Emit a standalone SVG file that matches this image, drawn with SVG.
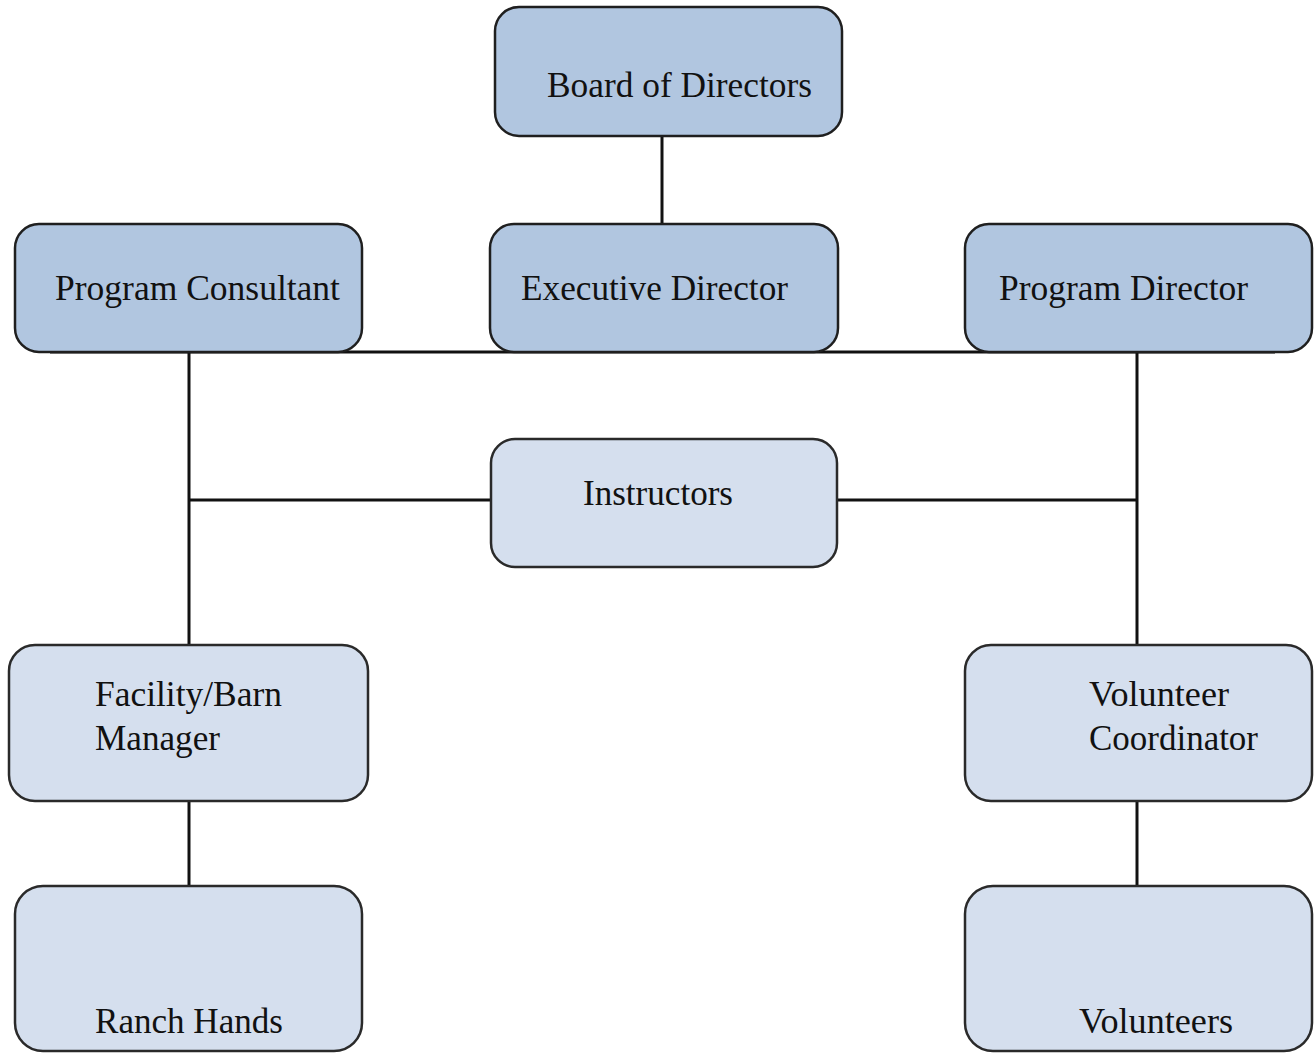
<svg xmlns="http://www.w3.org/2000/svg" width="1315" height="1053" viewBox="0 0 1315 1053">
<style>
.dark{fill:#b1c6e0;stroke:#1f1f1f;stroke-width:2.5}
.light{fill:#d5dfee;stroke:#2a2a2a;stroke-width:2.5}
.lbl{font-family:"Liberation Serif","Times New Roman",serif;font-size:35px;fill:#111}
.conn{stroke:#111;stroke-width:3;fill:none}
</style>
<rect width="1315" height="1053" fill="#fff"/>
<g id="connectors">
<line class="conn" x1="662" y1="136" x2="662" y2="224"/>
<line class="conn" x1="50" y1="352" x2="1275" y2="352"/>
<line class="conn" x1="189" y1="352" x2="189" y2="646"/>
<line class="conn" x1="1137" y1="352" x2="1137" y2="646"/>
<line class="conn" x1="189" y1="500" x2="491" y2="500"/>
<line class="conn" x1="837" y1="500" x2="1137" y2="500"/>
<line class="conn" x1="189" y1="800" x2="189" y2="886"/>
<line class="conn" x1="1137" y1="800" x2="1137" y2="886"/>
</g>
<g id="board">
<rect class="dark" x="495" y="7" width="347" height="129" rx="24" stroke-width="3"/>
<text class="lbl" x="547" y="97" textLength="265" lengthAdjust="spacingAndGlyphs">Board of Directors</text>
</g>
<g id="consultant">
<rect class="dark" x="15" y="224" width="347" height="128" rx="24"/>
<text class="lbl" x="55" y="300" textLength="285" lengthAdjust="spacingAndGlyphs">Program Consultant</text>
</g>
<g id="executive">
<rect class="dark" x="490" y="224" width="348" height="128" rx="24"/>
<text class="lbl" x="521" y="300" textLength="267" lengthAdjust="spacingAndGlyphs">Executive Director</text>
</g>
<g id="programdirector">
<rect class="dark" x="965" y="224" width="347" height="128" rx="24"/>
<text class="lbl" x="999" y="300" textLength="249" lengthAdjust="spacingAndGlyphs">Program Director</text>
</g>
<g id="instructors">
<rect class="light" x="491" y="439" width="346" height="128" rx="24" stroke-width="3"/>
<text class="lbl" x="583" y="505" textLength="150" lengthAdjust="spacingAndGlyphs">Instructors</text>
</g>
<g id="facility">
<rect class="light" x="9" y="645" width="359" height="156" rx="26"/>
<text class="lbl" x="95" y="706" textLength="187" lengthAdjust="spacingAndGlyphs">Facility/Barn</text>
<text class="lbl" x="95" y="750" textLength="125" lengthAdjust="spacingAndGlyphs">Manager</text>
</g>
<g id="volcoord">
<rect class="light" x="965" y="645" width="347" height="156" rx="26"/>
<text class="lbl" x="1089" y="706" textLength="140" lengthAdjust="spacingAndGlyphs">Volunteer</text>
<text class="lbl" x="1089" y="750" textLength="169" lengthAdjust="spacingAndGlyphs">Coordinator</text>
</g>
<g id="ranch">
<rect class="light" x="15" y="886" width="347" height="165" rx="28"/>
<text class="lbl" x="95" y="1033" textLength="188" lengthAdjust="spacingAndGlyphs">Ranch Hands</text>
</g>
<g id="volunteers">
<rect class="light" x="965" y="886" width="347" height="165" rx="28"/>
<text class="lbl" x="1079" y="1033" textLength="154" lengthAdjust="spacingAndGlyphs">Volunteers</text>
</g>
</svg>
